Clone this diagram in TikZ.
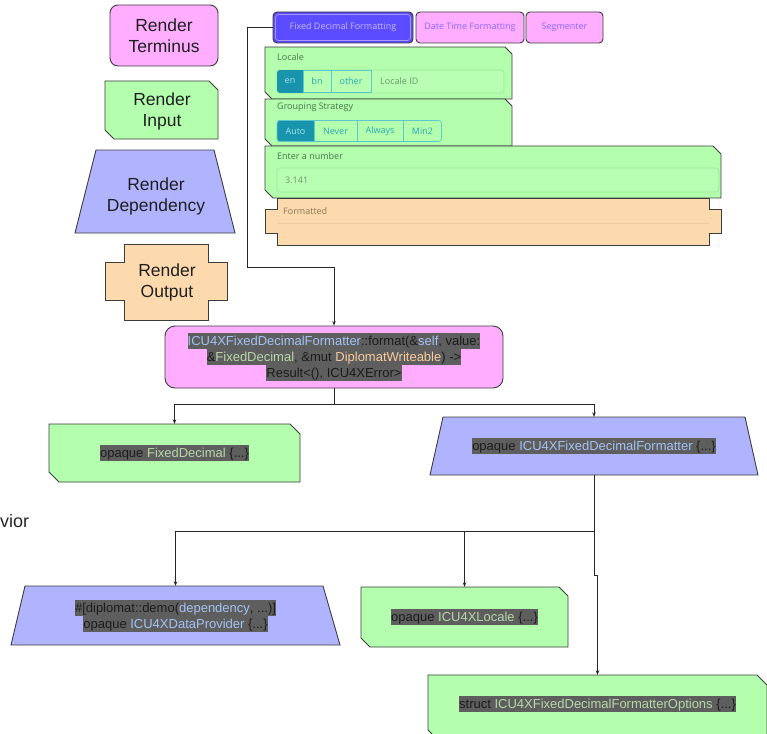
\documentclass[tikz,border=0pt]{standalone}
\usepackage{fontspec}
\setmainfont{Liberation Sans}
\newfontfamily\uifont{Open Sans}
\usetikzlibrary{arrows.meta}
\definecolor{pinkf}{HTML}{FFADFF}
\definecolor{greenf}{HTML}{B3FFAE}
\definecolor{bluef}{HTML}{B0B4FF}
\definecolor{orangef}{HTML}{FDDAAE}
\definecolor{edgec}{HTML}{3C3C3C}
\definecolor{tabact}{HTML}{5B4DFF}
\definecolor{tabacttxt}{HTML}{C6B8FF}
\definecolor{tabtxt}{HTML}{8A6BFF}
\definecolor{tealf}{HTML}{1894AC}
\definecolor{tealtxt}{HTML}{2BA6B6}
\definecolor{tealbd}{HTML}{5CC8CC}
\definecolor{tealon}{HTML}{A6E0EA}
\definecolor{lbl}{HTML}{4A744A}
\definecolor{ph}{HTML}{6C946C}
\definecolor{inbd}{HTML}{9EE39A}
\definecolor{infill}{HTML}{B8FFB4}
\definecolor{outlbl}{HTML}{8C7356}
\definecolor{outln}{HTML}{EBCB9F}
\definecolor{hlgray}{HTML}{5E5E5E}
\definecolor{codetxt}{HTML}{1C1C1C}
\definecolor{cblue}{HTML}{A4C2F4}
\definecolor{cgreen}{HTML}{B6D7A8}
\definecolor{ctan}{HTML}{F9CB9C}
\newcommand{\hlline}[1]{{\setlength{\fboxsep}{0pt}\colorbox{hlgray}{\rule[-3.5pt]{0pt}{16pt}#1}}}
\newcommand{\cB}[1]{\textcolor{cblue}{#1}}
\newcommand{\cG}[1]{\textcolor{cgreen}{#1}}
\newcommand{\cT}[1]{\textcolor{ctan}{#1}}
\newcommand{\cutrect}[6][]{\draw[shp,#1] (#2,#3) -- ({#4-#6},#3) -- (#4,{#3+#6}) -- (#4,#5) -- ({#2+#6},#5) -- (#2,{#5-#6}) -- cycle;}
\newcommand{\crossshape}[9][]{\draw[shp,#1] (#2,#6) -- (#3,#6) -- (#3,#8) -- (#5,#8) -- (#5,#9) -- (#3,#9) -- (#3,#7) -- (#2,#7) -- (#2,#9) -- (#4,#9) -- (#4,#8) -- (#2,#8) -- cycle;}
\begin{document}
\begin{tikzpicture}[x=1pt,y=-1pt,
  shp/.style={draw=edgec,line width=0.9pt},
  conn/.style={draw=black!85,line width=0.9pt,-{Stealth[length=4.5pt,width=3.6pt]}},
  lgd/.style={font=\fontsize{17.5}{21}\selectfont,align=center,text=black!88,inner sep=0pt},
  code/.style={font=\fontsize{13}{16}\selectfont,align=center,text=codetxt,inner sep=0pt},
  ui/.style={font=\uifont\fontsize{9}{11}\selectfont,inner sep=0pt},
  tabbox/.style={draw=edgec,line width=0.9pt,rounded corners=4pt,minimum height=31pt,inner sep=0pt,font=\uifont\fontsize{9}{11}\selectfont},
  inbox/.style={draw=inbd,line width=0.6pt,fill=infill,rounded corners=3pt},
  obtn/.style={draw=tealbd,line width=0.7pt},
]
\useasboundingbox (0,0) rectangle (767,733);
\clip (0,0) rectangle (767,733);

% legend
\node[draw=edgec,line width=0.9pt,fill=pinkf,rounded corners=8pt,minimum width=108pt,minimum height=61pt,lgd] (term) at (164,35.5) {Render\\Terminus};
\cutrect[fill=greenf]{105}{81}{218}{139}{9}
\node[lgd] (inp) at (162,111) {Render\\Input};
\draw[shp,fill=bluef] (96,150) -- (214,150) -- (235,233) -- (75,233) -- cycle;
\node[lgd] (dep) at (156,196) {Render\\Dependency};
\crossshape[fill=orangef]{124}{208}{105}{227}{244}{320}{262}{300}
\node[lgd] (outp) at (167,282) {Render\\Output};

% tabs
\node[tabbox,fill=tabact,text=tabacttxt,minimum width=140pt] (tab1) at (343,27.5) {Fixed Decimal Formatting};
\draw[tabacttxt!70!tabact,line width=0.7pt,rounded corners=3pt] (275.5,14.5) rectangle (410.5,40.5);
\node[tabbox,fill=pinkf,text=tabtxt,minimum width=108pt] (tab2) at (470,27.5) {Date Time Formatting};
\node[tabbox,fill=pinkf,text=tabtxt,minimum width=77pt] (tab3) at (564.5,27.5) {Segmenter};

% locale panel
\cutrect[fill=greenf]{265}{47}{512}{99}{7}
\node[ui,text=lbl,anchor=west] (loclbl) at (277,57.5) {Locale};
\draw[inbox] (277,70) rectangle (504,93);
\begin{scope}
\clip[rounded corners=3pt] (277,70) rectangle (504,93);
\fill[tealf] (277,70) rectangle (303,93);
\end{scope}
\draw[obtn] (303,70.5) rectangle (331,92.5) (331,70.5) rectangle (371,92.5);
\node[ui,text=tealon] (ben) at (290,81.5) {en};
\node[ui,text=tealtxt] (bbn) at (317,81.5) {bn};
\node[ui,text=tealtxt] (both) at (351,81.5) {other};
\node[ui,text=ph,anchor=west] (locid) at (380,81.5) {Locale ID};

% grouping panel
\cutrect[fill=greenf]{265}{99}{512}{146}{7}
\node[ui,text=lbl,anchor=west] (grplbl) at (277,107) {Grouping Strategy};
\begin{scope}
\clip[rounded corners=3pt] (277,120) rectangle (442,142);
\fill[tealf] (277,120) rectangle (314,142);
\end{scope}
\draw[obtn,rounded corners=3pt] (277,120.5) rectangle (441.5,141.5);
\draw[obtn] (314,120.5) -- (314,141.5) (357,120.5) -- (357,141.5) (403,120.5) -- (403,141.5);
\node[ui,text=tealon] (bauto) at (295.5,131) {Auto};
\node[ui,text=tealtxt] (bnever) at (335.5,131) {Never};
\node[ui,text=tealtxt] (balways) at (380,131) {Always};
\node[ui,text=tealtxt] (bmin) at (422.5,131) {Min2};

% number panel
\cutrect[fill=greenf]{265}{146}{721}{198}{8}
\node[ui,text=lbl,anchor=west] (numlbl) at (277,156.5) {Enter a number};
\draw[inbox] (277,168) rectangle (719,192);
\node[ui,text=ph,anchor=west] (numval) at (285,180) {3.141};

% formatted
\draw[black!12,fill=white,rounded corners=2pt] (277,199) rectangle (719,246);
\crossshape[fill=orangef]{277}{709}{265}{721}{198}{245}{209}{233}
\draw[outln,line width=0.6pt] (277,223) -- (709,223);
\node[ui,text=outlbl,anchor=west] (fmtlbl) at (283,211) {Formatted};

% central node
\node[draw=edgec,line width=0.9pt,fill=pinkf,rounded corners=10pt,minimum width=338pt,minimum height=62pt,code] (fmtfn) at (334,357) {\hlline{\cB{ICU4XFixedDecimalFormatter}::format(\&\cB{self}, value:}\\\hlline{\&\cG{FixedDecimal}, \&mut \cT{DiplomatWriteable}) ->}\\\hlline{Result<(), ICU4XError>}};

% bottom nodes
\cutrect[fill=greenf]{49}{424}{300}{482}{10}
\node[code,minimum width=251pt,minimum height=58pt] (fd) at (174.5,453) {\hlline{opaque \cG{FixedDecimal} \{...\}}};
\draw[shp,fill=bluef] (443,417) -- (745,417) -- (758,475) -- (430,475) -- cycle;
\node[code,minimum width=328pt,minimum height=58pt] (fdf) at (594,446) {\hlline{opaque \cB{ICU4XFixedDecimalFormatter} \{...\}}};
\draw[shp,fill=bluef] (25,586) -- (323,586) -- (340,645) -- (11,645) -- cycle;
\node[code,minimum width=329pt,minimum height=59pt] (dp) at (175.5,615.5) {\hlline{\#[diplomat::demo(\cB{dependency}, ...)]}\\\hlline{opaque \cB{ICU4XDataProvider} \{...\}}};
\cutrect[fill=greenf]{361}{587}{568}{647}{9}
\node[code,minimum width=207pt,minimum height=60pt] (loc) at (464.5,617) {\hlline{opaque \cG{ICU4XLocale} \{...\}}};
\cutrect[fill=greenf]{428}{675}{767}{740}{10}
\node[code,minimum width=339pt,minimum height=58pt] (opts) at (597.5,704) {\hlline{struct \cG{ICU4XFixedDecimalFormatterOptions} \{...\}}};

\node[font=\fontsize{18}{21}\selectfont,anchor=base west,inner sep=0pt,text=black!85] (behav) at (0,527) {vior};

% connectors
\coordinate (j1) at (247,267);
\draw[conn] (tab1.west) -| (j1) -| (fmtfn.north);
\coordinate (b1) at (334,404);
\draw[conn] (fmtfn.south) -- (b1) -| (fd.north);
\draw[conn] (fmtfn.south) -- (b1) -| (fdf.north);
\coordinate (b2) at (594,531);
\draw[conn] (fdf.south) -- (b2) -| (dp.north);
\draw[conn] (fdf.south) -- (b2) -| (loc.north);
\coordinate (b3) at (594,575);
\draw[conn] (fdf.south) -- (b3) -| (opts.north);
\end{tikzpicture}
\end{document}
